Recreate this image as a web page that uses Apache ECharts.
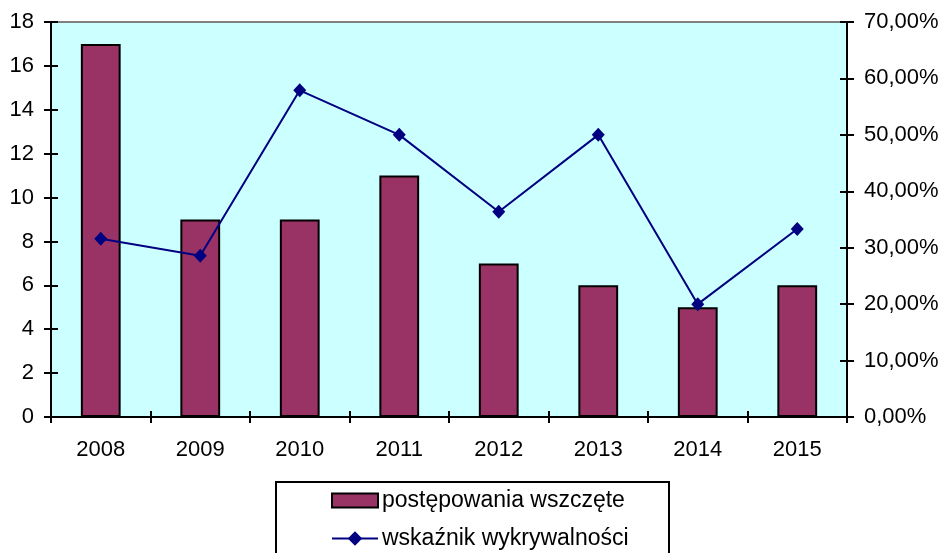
<!DOCTYPE html>
<html>
<head>
<meta charset="utf-8">
<script src="https://cdn.jsdelivr.net/npm/echarts@6/dist/echarts.min.js"></script>
<style>
  html, body { margin: 0; padding: 0; background: #fff; }
  #chart { width: 945px; height: 553px; }
</style>
</head>
<body>
<div id="chart"></div>
<script>
const years = ['2008', '2009', '2010', '2011', '2012', '2013', '2014', '2015'];
const casesStarted = [17, 9, 9, 11, 7, 6, 5, 6];
const detectionRate = [0.3158, 0.2857, 0.5789, 0.5, 0.3636, 0.5, 0.2, 0.3333];
const leftTicks = { min: 0, max: 18, interval: 2 };
const rightTicks = { min: 0, max: 0.7, interval: 0.1 };

const font = 'Liberation Sans, Arial, sans-serif';
const black = { color: '#000', width: 2 };

const chart = echarts.init(document.getElementById('chart'));

function pct(v) {
    return (v * 100).toFixed(2).replace('.', ',') + '%';
}

// one legend per row so the layout matches the boxed, stacked legend of the original
function legendRow(name, top, iconHeight, icon) {
    const row = {
        left: 331,
        top: top,
        padding: 0,
        itemWidth: 46,
        itemHeight: iconHeight,
        itemGap: 0,
        textStyle: { fontSize: 23, color: '#000', fontFamily: font, padding: [0, 0, 0, -1] },
        data: [name]
    };
    if (icon) {
        row.data = [{ name: name, icon: icon }];
    }
    return row;
}

const options = {
    animation: false,
    textStyle: { fontFamily: font },
    grid: {
        left: 51, right: 98, top: 22, bottom: 136,
        show: true,
        backgroundColor: '#CCFFFF',
        borderColor: '#808080',
        borderWidth: 2
    },
    graphic: [{
        type: 'rect',
        left: 275,
        top: 481,
        shape: { width: 393, height: 90 },
        style: { fill: '#fff', stroke: '#000', lineWidth: 2 }
    }],
    legend: [
        legendRow('postępowania wszczęte', 489, 14, 'rect'),
        legendRow('wskaźnik wykrywalności', 527, 18)
    ],
    xAxis: [{
        type: 'category',
        data: years,
        position: 'bottom',
        axisLine: { lineStyle: black },
        axisTick: { show: true, length: 6, lineStyle: black },
        axisLabel: { fontSize: 22, color: '#000', margin: 22 }
    }, {
        type: 'category',
        data: years,
        position: 'bottom',
        axisLine: { show: false },
        axisTick: { show: true, inside: true, length: 6, lineStyle: black },
        axisLabel: { show: false }
    }],
    yAxis: [{
        type: 'value',
        position: 'left',
        min: leftTicks.min, max: leftTicks.max, interval: leftTicks.interval,
        splitLine: { show: false },
        axisLine: { show: true, lineStyle: black },
        axisTick: { show: true, length: 7, lineStyle: black },
        axisLabel: { fontSize: 22, color: '#000', margin: 17 }
    }, {
        type: 'value',
        position: 'right',
        min: rightTicks.min, max: rightTicks.max, interval: rightTicks.interval,
        splitLine: { show: false },
        axisLine: { show: true, lineStyle: black },
        axisTick: { show: true, length: 7, lineStyle: black },
        axisLabel: { fontSize: 22, color: '#000', margin: 17, formatter: pct }
    }, {
        type: 'value',
        position: 'left',
        min: leftTicks.min, max: leftTicks.max, interval: leftTicks.interval,
        splitLine: { show: false },
        axisLine: { show: false },
        axisTick: { show: true, inside: true, length: 7, lineStyle: black },
        axisLabel: { show: false }
    }, {
        type: 'value',
        position: 'right',
        min: rightTicks.min, max: rightTicks.max, interval: rightTicks.interval,
        splitLine: { show: false },
        axisLine: { show: false },
        axisTick: { show: true, inside: true, length: 7, lineStyle: black },
        axisLabel: { show: false }
    }],
    series: [{
        name: 'postępowania wszczęte',
        type: 'bar',
        data: casesStarted,
        barWidth: '40%',
        yAxisIndex: 0,
        itemStyle: { color: '#993366', borderColor: '#000', borderWidth: 2 }
    }, {
        name: 'wskaźnik wykrywalności',
        type: 'line',
        data: detectionRate,
        yAxisIndex: 1,
        symbol: 'diamond',
        symbolSize: [13, 14],
        lineStyle: { color: '#000080', width: 2 },
        itemStyle: { color: '#000080' },
        z: 5
    }]
};

chart.setOption(options);
</script>
</body>
</html>
